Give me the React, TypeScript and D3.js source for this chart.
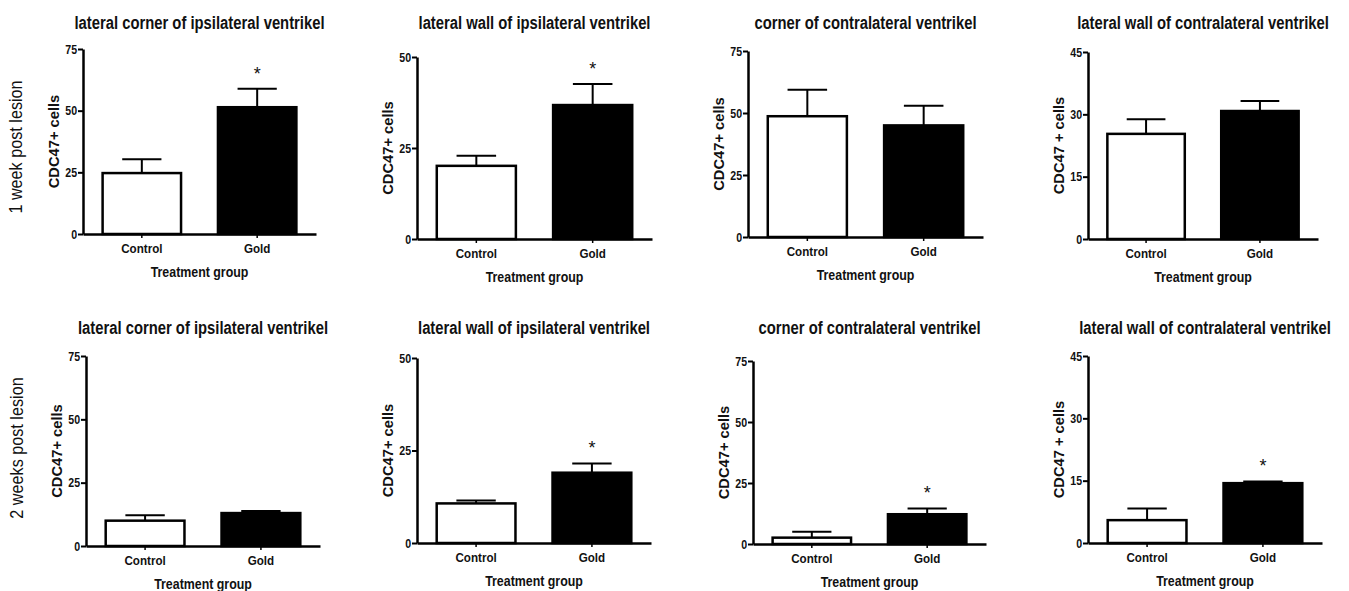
import * as d3 from "d3";
import React, { useEffect, useRef } from "react";

// chart values
const regionTitles = [
  "lateral corner of ipsilateral ventrikel",
  "lateral wall of ipsilateral ventrikel",
  "corner of contralateral ventrikel",
  "lateral wall of contralateral ventrikel",
];
const rowLabels = ["1 week post lesion", "2 weeks post lesion"];
const groups = ["Control", "Gold"];
const yLabels = ["CDC47+ cells", "CDC47+ cells", "CDC47+ cells", "CDC47 + cells"];
const yMax = [75, 50, 75, 45];
const yTicks = [
  [0, 25, 50, 75],
  [0, 25, 50],
  [0, 25, 50, 75],
  [0, 15, 30, 45],
];
const controlMean = [
  [24.7, 20.1, 48.7, 25.3],
  [10.0, 10.7, 2.6, 5.5],
];
const controlSem = [
  [5.6, 2.8, 10.7, 3.5],
  [2.1, 0.8, 2.4, 2.8],
];
const goldMean = [
  [51.4, 36.8, 45.0, 30.8],
  [13.0, 19.0, 12.2, 14.4],
];
const goldSem = [
  [7.5, 5.8, 7.9, 2.4],
  [0.8, 2.5, 2.4, 0.4],
];
const goldStar = [
  [true, true, false, false],
  [false, true, true, true],
];

// plot frames (axis origin / extent) for each panel
const frames = [
  [
    { x0: 83, x1: 316, top: 49, bottom: 234 },
    { x0: 417, x1: 652, top: 57, bottom: 239 },
    { x0: 748, x1: 983, top: 51, bottom: 237 },
    { x0: 1088, x1: 1318, top: 52, bottom: 239 },
  ],
  [
    { x0: 86, x1: 320, top: 356, bottom: 546 },
    { x0: 417, x1: 651, top: 358, bottom: 543 },
    { x0: 753, x1: 986, top: 361, bottom: 544 },
    { x0: 1088, x1: 1322, top: 356, bottom: 543 },
  ],
];
const titleY = [29, 334];
const rowLabelPos = [
  { x: 16, y: 147 },
  { x: 17, y: 448 },
];

const FONT = "'Liberation Sans', Arial, sans-serif";

export default function App() {
  const ref = useRef<SVGSVGElement>(null);

  useEffect(() => {
    const width = 1349;
    const height = 591;
    const svg = d3.select(ref.current);
    svg.selectAll("*").remove();
    svg.attr("width", width).attr("height", height);

    // row labels
    rowLabels.forEach((label, r) => {
      svg
        .append("text")
        .attr(
          "transform",
          `translate(${rowLabelPos[r].x + 6},${rowLabelPos[r].y}) rotate(-90) scale(0.9,1)`
        )
        .attr("text-anchor", "middle")
        .attr("font-family", FONT)
        .attr("font-size", 18)
        .attr("fill", "#111")
        .text(label);
    });

    frames.forEach((row, r) => {
      row.forEach((f, c) => {
        const g = svg.append("g");
        const x = d3
          .scaleBand()
          .domain(groups)
          .range([f.x0, f.x1])
          .paddingInner(0.32)
          .paddingOuter(0.17);
        const y = d3.scaleLinear().domain([0, yMax[c]]).range([f.bottom, f.top]);
        const midX = (f.x0 + f.x1) / 2;

        // title
        g.append("text")
          .attr("transform", `translate(${midX},${titleY[r]}) scale(0.78,1)`)
          .attr("text-anchor", "middle")
          .attr("font-family", FONT)
          .attr("font-weight", "bold")
          .attr("font-size", 19)
          .attr("fill", "#111")
          .text(regionTitles[c]);

        const bars = groups.map((name, i) => ({
          name,
          mean: i === 0 ? controlMean[r][c] : goldMean[r][c],
          sem: i === 0 ? controlSem[r][c] : goldSem[r][c],
          star: i === 1 && goldStar[r][c],
          fill: i === 0 ? "#fff" : "#000",
        }));

        // error bars (upper only)
        bars.forEach((b) => {
          const cx = x(b.name)! + x.bandwidth() / 2;
          const yt = y(b.mean + b.sem);
          g.append("line")
            .attr("x1", cx)
            .attr("x2", cx)
            .attr("y1", y(b.mean))
            .attr("y2", yt)
            .attr("stroke", "#000")
            .attr("stroke-width", 2);
          g.append("line")
            .attr("x1", cx - x.bandwidth() / 4)
            .attr("x2", cx + x.bandwidth() / 4)
            .attr("y1", yt)
            .attr("y2", yt)
            .attr("stroke", "#000")
            .attr("stroke-width", 2);
          if (b.star) {
            g.append("text")
              .attr("x", cx)
              .attr("y", yt - 9)
              .attr("text-anchor", "middle")
              .attr("font-family", FONT)
              .attr("font-size", 18)
              .attr("fill", "#111")
              .text("*");
          }
        });

        // bars
        g.selectAll("rect.bar")
          .data(bars)
          .join("rect")
          .attr("class", "bar")
          .attr("x", (d) => x(d.name)!)
          .attr("width", x.bandwidth())
          .attr("y", (d) => y(d.mean))
          .attr("height", (d) => f.bottom - y(d.mean))
          .attr("fill", (d) => d.fill)
          .attr("stroke", "#000")
          .attr("stroke-width", 2.5);

        // y axis
        const yAxis = g
          .append("g")
          .attr("transform", `translate(${f.x0},0)`)
          .call(
            d3
              .axisLeft(y)
              .tickValues(yTicks[c])
              .tickSize(5)
              .tickSizeOuter(0)
              .tickPadding(2)
          );
        yAxis.select(".domain").attr("stroke-width", 2.5).attr("stroke", "#000");
        yAxis.selectAll(".tick line").attr("stroke-width", 2).attr("stroke", "#000");
        yAxis
          .selectAll(".tick text")
          .attr("font-family", FONT)
          .attr("font-weight", "bold")
          .attr("font-size", 12.5)
          .attr("fill", "#111")
          .attr("transform", "scale(0.85,1)");

        // x axis
        const xAxis = g
          .append("g")
          .attr("transform", `translate(0,${f.bottom})`)
          .call(d3.axisBottom(x).tickSize(4).tickSizeOuter(0).tickPadding(6));
        xAxis.select(".domain").attr("stroke-width", 2.5).attr("stroke", "#000");
        xAxis.selectAll(".tick line").attr("stroke-width", 1.5).attr("stroke", "#000");
        xAxis
          .selectAll(".tick text")
          .attr("font-family", FONT)
          .attr("font-weight", "bold")
          .attr("font-size", 12.5)
          .attr("fill", "#111")
          .attr("transform", "scale(0.93,1)");

        // axis titles
        g.append("text")
          .attr("transform", `translate(${midX},${f.bottom + 43}) scale(0.8,1)`)
          .attr("text-anchor", "middle")
          .attr("font-family", FONT)
          .attr("font-weight", "bold")
          .attr("font-size", 15.5)
          .attr("fill", "#111")
          .text("Treatment group");

        g.append("text")
          .attr(
            "transform",
            `translate(${f.x0 - 24},${(f.top + f.bottom) / 2}) rotate(-90) scale(1.05,1)`
          )
          .attr("text-anchor", "middle")
          .attr("font-family", FONT)
          .attr("font-weight", "bold")
          .attr("font-size", 14)
          .attr("fill", "#111")
          .text(yLabels[c]);
      });
    });
  }, []);

  return (
    <svg
      ref={ref}
      style={{ position: "absolute", left: 0, top: 0, background: "#fff" }}
    ></svg>
  );
}
